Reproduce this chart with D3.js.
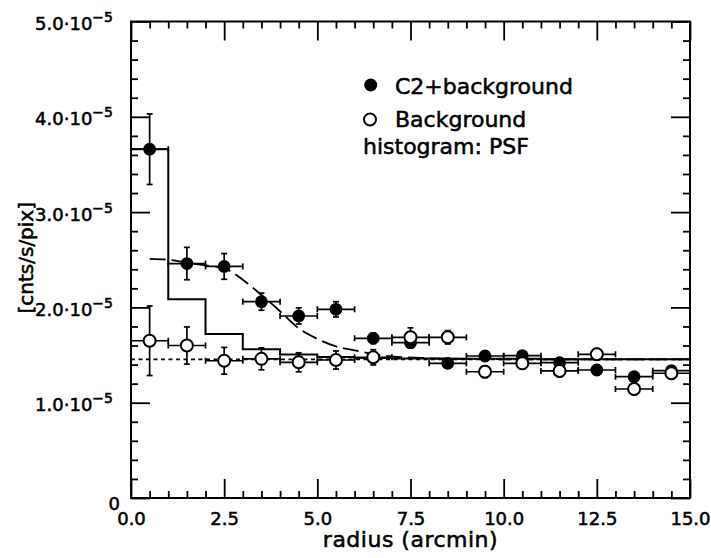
<!DOCTYPE html>
<html>
<head>
<meta charset="utf-8">
<script src="https://cdn.jsdelivr.net/npm/d3@7"></script>
<style>
  body { margin: 0; background: #fff; }
  text { font-family: "DejaVu Sans", sans-serif; fill: #000; stroke: #000; stroke-width: 0.55px; }
</style>
</head>
<body>
<script>

// values in units of 1e-5 cnts/s/pix
let radius = [0.5, 1.5, 2.5, 3.5, 4.5, 5.5, 6.5, 7.5, 8.5, 9.5, 10.5, 11.5, 12.5, 13.5, 14.5];
let c2bg = [3.66, 2.46, 2.43, 2.06, 1.91, 1.98, 1.676, 1.63, 1.413, 1.49, 1.493, 1.42, 1.343, 1.273, 1.336];
let c2bgErr = [0.37, 0.17, 0.135, 0.09, 0.085, 0.08, 0.055, 0.055, 0.05, 0.05, 0.05, 0.05, 0.05, 0.05, 0.05];
let bg = [1.65, 1.60, 1.44, 1.46, 1.424, 1.448, 1.476, 1.686, 1.686, 1.325, 1.413, 1.333, 1.508, 1.144, 1.309];
let bgErr = [0.365, 0.195, 0.14, 0.115, 0.1, 0.095, 0.08, 0.1, 0.07, 0.06, 0.06, 0.06, 0.06, 0.06, 0.06];
let radiusHalfWidth = 0.5;

// PSF histogram (bin left edges and heights)
let histEdges = [0, 1, 2, 3, 4, 5, 6, 7, 8, 9, 10, 11, 12, 13, 14, 15];
let histValues = [3.66, 2.085, 1.72, 1.56, 1.505, 1.48, 1.47, 1.465, 1.46, 1.46, 1.46, 1.455, 1.455, 1.455, 1.455, 1.455];

// dashed model curve
let modelX = [0.5, 1.0, 1.5, 2.0, 2.5, 3.0, 3.5, 4.0, 4.5, 5.0, 5.5, 6.0, 6.5, 7.0, 8.0, 9.0, 10.0, 12.0, 15.0];
let modelY = [2.51, 2.50, 2.47, 2.44, 2.41, 2.29, 2.13, 1.96, 1.78, 1.67, 1.59, 1.55, 1.51, 1.485, 1.468, 1.46, 1.456, 1.455, 1.455];

// background level (dotted)
let bgLevelX = [0, 15];
let bgLevelY = [1.455, 1.455];

// axes
let xMajor = [0, 2.5, 5, 7.5, 10, 12.5, 15];
let xTickLabels = ["0.0", "2.5", "5.0", "7.5", "10.0", "12.5", "15.0"];
let yMajor = [0, 1, 2, 3, 4, 5];
let yTickLabels = ["0", "1.0·10", "2.0·10", "3.0·10", "4.0·10", "5.0·10"];
let yTickExp = ["", "−5", "−5", "−5", "−5", "−5"];

let width = 711;
let height = 558;

let svg = d3.select("body").append("svg")
    .attr("width", width)
    .attr("height", height);

let x = d3.scaleLinear().domain([0, 15]).range([131, 690]);
let y = d3.scaleLinear().domain([0, 5]).range([498, 21.5]);

let xMinor = d3.range(0, 15.001, 0.5).filter(d => xMajor.indexOf(d) < 0);
let yMinor = d3.range(0, 5.001, 0.2).filter(d => Math.abs(d - Math.round(d)) > 0.01);

function styleAxis(g) {
    g.select(".domain").remove();
    g.selectAll(".tick line").attr("stroke", "#000").attr("stroke-width", 1.8);
}

// ticks on all four sides, pointing inward
svg.append("g").attr("transform", `translate(0,${y(0)})`)
    .call(d3.axisBottom(x).tickValues(xMajor).tickSize(-19).tickSizeOuter(0).tickPadding(14)
        .tickFormat((d, i) => xTickLabels[i]))
    .call(styleAxis)
    .selectAll("text").attr("font-size", 18).attr("font-family", "DejaVu Sans");
svg.append("g").attr("transform", `translate(0,${y(0)})`)
    .call(d3.axisBottom(x).tickValues(xMinor).tickSize(-7).tickFormat(""))
    .call(styleAxis);
svg.append("g").attr("transform", `translate(0,${y(5)})`)
    .call(d3.axisTop(x).tickValues(xMajor).tickSize(-19).tickFormat(""))
    .call(styleAxis);
svg.append("g").attr("transform", `translate(0,${y(5)})`)
    .call(d3.axisTop(x).tickValues(xMinor).tickSize(-7).tickFormat(""))
    .call(styleAxis);
svg.append("g").attr("transform", `translate(${x(0)},0)`)
    .call(d3.axisLeft(y).tickValues(yMajor).tickSize(-19).tickFormat(""))
    .call(styleAxis);
svg.append("g").attr("transform", `translate(${x(0)},0)`)
    .call(d3.axisLeft(y).tickValues(yMinor).tickSize(-7).tickFormat(""))
    .call(styleAxis);
svg.append("g").attr("transform", `translate(${x(15)},0)`)
    .call(d3.axisRight(y).tickValues(yMajor).tickSize(-19).tickFormat(""))
    .call(styleAxis);
svg.append("g").attr("transform", `translate(${x(15)},0)`)
    .call(d3.axisRight(y).tickValues(yMinor).tickSize(-7).tickFormat(""))
    .call(styleAxis);

// y tick labels with exponent
let yLab = svg.append("g").selectAll("text")
    .data(yMajor)
    .enter().append("text")
    .attr("text-anchor", "end")
    .attr("font-size", 18)
    .attr("x", (d, i) => i === 0 ? 120 : 113)
    .attr("y", (d, i) => y(d) + (i === 0 ? 12 : 8.5));
yLab.append("tspan").text((d, i) => yTickLabels[i]);
yLab.append("tspan")
    .attr("font-size", 14)
    .attr("dy", -8)
    .text((d, i) => yTickExp[i]);

// frame
svg.append("rect")
    .attr("x", x(0)).attr("y", y(5))
    .attr("width", x(15) - x(0)).attr("height", y(0) - y(5))
    .attr("fill", "none").attr("stroke", "#000").attr("stroke-width", 2);

// axis titles
svg.append("text")
    .attr("x", (x(0) + x(15)) / 2).attr("y", 547)
    .attr("text-anchor", "middle").attr("font-size", 22)
    .attr("letter-spacing", 0.5)
    .text("radius (arcmin)");
svg.append("text")
    .attr("transform", `translate(33,${(y(0) + y(5)) / 2 - 2}) rotate(-90)`)
    .attr("text-anchor", "middle").attr("font-size", 20)
    .text("[cnts/s/pix]");

// lines
let plot = svg.append("g");
let histPts = histEdges.map((e, i) => [e, histValues[i]]);
plot.append("path")
    .datum(histPts)
    .attr("d", d3.line().x(d => x(d[0])).y(d => y(d[1])).curve(d3.curveStepAfter))
    .attr("fill", "none").attr("stroke", "#000").attr("stroke-width", 2);

plot.append("path")
    .datum(bgLevelX.map((v, i) => [v, bgLevelY[i]]))
    .attr("d", d3.line().x(d => x(d[0])).y(d => y(d[1])))
    .attr("fill", "none").attr("stroke", "#000").attr("stroke-width", 1.8)
    .attr("stroke-dasharray", "4,3.5");

plot.append("path")
    .datum(modelX.map((v, i) => [v, modelY[i]]))
    .attr("d", d3.line().x(d => x(d[0])).y(d => y(d[1])).curve(d3.curveMonotoneX))
    .attr("fill", "none").attr("stroke", "#000").attr("stroke-width", 1.8)
    .attr("stroke-dasharray", "16,6");

// error bars and markers
function drawSeries(vals, errs, filled) {
    let g = plot.append("g").attr("stroke", "#000").attr("stroke-width", 1.7);
    let pts = radius.map((r, i) => ({ r: r, v: vals[i], e: errs[i] }));
    let eb = g.selectAll("g").data(pts).enter().append("g");
    eb.append("line")
        .attr("x1", d => x(d.r - radiusHalfWidth)).attr("x2", d => x(d.r + radiusHalfWidth))
        .attr("y1", d => y(d.v)).attr("y2", d => y(d.v));
    eb.append("line")
        .attr("x1", d => x(d.r - radiusHalfWidth)).attr("x2", d => x(d.r - radiusHalfWidth))
        .attr("y1", d => y(d.v) - 3).attr("y2", d => y(d.v) + 3);
    eb.append("line")
        .attr("x1", d => x(d.r + radiusHalfWidth)).attr("x2", d => x(d.r + radiusHalfWidth))
        .attr("y1", d => y(d.v) - 3).attr("y2", d => y(d.v) + 3);
    eb.append("line")
        .attr("x1", d => x(d.r)).attr("x2", d => x(d.r))
        .attr("y1", d => y(d.v - d.e)).attr("y2", d => y(d.v + d.e));
    eb.append("line")
        .attr("x1", d => x(d.r) - 3).attr("x2", d => x(d.r) + 3)
        .attr("y1", d => y(d.v - d.e)).attr("y2", d => y(d.v - d.e));
    eb.append("line")
        .attr("x1", d => x(d.r) - 3).attr("x2", d => x(d.r) + 3)
        .attr("y1", d => y(d.v + d.e)).attr("y2", d => y(d.v + d.e));
    g.selectAll("circle").data(pts).enter().append("circle")
        .attr("cx", d => x(d.r)).attr("cy", d => y(d.v))
        .attr("r", filled ? 6.4 : 6)
        .attr("fill", filled ? "#000" : "#fff")
        .attr("stroke-width", filled ? 0 : 2);
}
drawSeries(c2bg, c2bgErr, true);
drawSeries(bg, bgErr, false);

// legend
let legend = svg.append("g");
legend.append("circle").attr("cx", 370.7).attr("cy", 85).attr("r", 6.5).attr("fill", "#000");
legend.append("text").attr("x", 395).attr("y", 93.5).attr("font-size", 22).text("C2+background");
legend.append("circle").attr("cx", 370).attr("cy", 119.5).attr("r", 6).attr("fill", "#fff")
    .attr("stroke", "#000").attr("stroke-width", 2);
legend.append("text").attr("x", 395).attr("y", 126.5).attr("font-size", 22).text("Background");
legend.append("text").attr("x", 363).attr("y", 154.3).attr("font-size", 22).text("histogram: PSF");

</script>
</body>
</html>
